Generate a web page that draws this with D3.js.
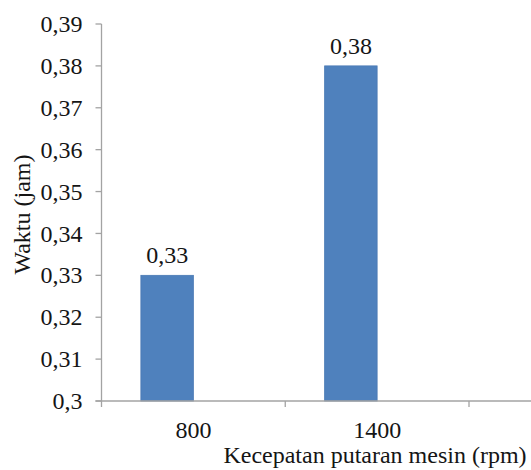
<!DOCTYPE html>
<html>
<head>
<meta charset="utf-8">
<script src="https://cdn.jsdelivr.net/npm/d3@7"></script>
</head>
<body style="margin:0">
<svg id="chart" width="531" height="470"></svg>
<script>
// ---- data ----
const categories = ["800", "1400"];
const values = [0.33, 0.38];
const yTickValues = [0.30, 0.31, 0.32, 0.33, 0.34, 0.35, 0.36, 0.37, 0.38, 0.39];
const xTitle = "Kecepatan putaran mesin (rpm)";
const yTitle = "Waktu (jam)";

const W = 531;
const plotL = 101.5, plotR = 469, plotT = 24, plotB = 401;
const fontSize = 24;
const textColor = "#151515";
const axisColor = "#a3a3a3";
const barColor = "#4f81bd";

const svg = d3.select("#chart");
const fmt = d3.formatLocale({decimal: ",", thousands: ".", grouping: [3], currency: ["", ""]}).format(".2~f");

function styleText(sel) {
  sel.style("font-family", "'Times New Roman'").attr("font-size", fontSize).attr("fill", textColor);
}

const y = d3.scaleLinear().domain([0.30, 0.39]).range([plotB, plotT]);
const x = d3.scaleBand().domain(categories).range([plotL, plotR]).paddingInner(0).paddingOuter(0);
const xs = d3.scaleBand().domain(["s1", "s2"]).range([0, x.bandwidth()]).paddingInner(0).paddingOuter(0.75);

const rows = categories.map((c, i) => ({c, v: values[i]}));

// bars
svg.append("g").selectAll("rect")
  .data(rows)
  .join("rect")
  .attr("x", d => x(d.c) + xs("s1"))
  .attr("width", xs.bandwidth())
  .attr("y", d => y(d.v))
  .attr("height", d => y(0.30) - y(d.v))
  .attr("fill", barColor)
  .attr("stroke", "#4a7ab4")
  .attr("stroke-width", 0.8);

// y axis line and ticks
svg.append("line")
  .attr("x1", plotL).attr("x2", plotL)
  .attr("y1", y(0.39)).attr("y2", y(0.30))
  .attr("stroke", axisColor).attr("stroke-width", 1.3);
svg.append("g").selectAll("line")
  .data(yTickValues)
  .join("line")
  .attr("x1", plotL - 6).attr("x2", plotL)
  .attr("y1", d => y(d)).attr("y2", d => y(d))
  .attr("stroke", axisColor).attr("stroke-width", 1.3);
svg.append("g").selectAll("text")
  .data(yTickValues)
  .join("text")
  .attr("x", plotL - 19)
  .attr("y", d => y(d))
  .attr("dy", "0.34em")
  .attr("text-anchor", "end")
  .call(styleText)
  .text(d => fmt(d));

// value labels
svg.append("g").selectAll("text")
  .data(rows)
  .join("text")
  .attr("x", d => x(d.c) + xs("s1") + xs.bandwidth() / 2)
  .attr("y", d => y(d.v) - 12)
  .attr("text-anchor", "middle")
  .call(styleText)
  .text(d => fmt(d.v));

// x axis baseline (extends to the right edge)
svg.append("line")
  .attr("x1", plotL - 6).attr("x2", W)
  .attr("y1", y(0.30)).attr("y2", y(0.30))
  .attr("stroke", axisColor).attr("stroke-width", 1.3);

// x boundary ticks
const boundaries = categories.map(c => x(c)).concat([x.range()[1]]);
svg.append("g").selectAll("line")
  .data(boundaries)
  .join("line")
  .attr("x1", d => d).attr("x2", d => d)
  .attr("y1", y(0.30)).attr("y2", y(0.30) + 6)
  .attr("stroke", axisColor).attr("stroke-width", 1.3);

// x category labels
svg.append("g").selectAll("text")
  .data(categories)
  .join("text")
  .attr("x", d => x(d) + x.bandwidth() / 2)
  .attr("y", 438)
  .attr("text-anchor", "middle")
  .call(styleText)
  .text(d => d);

// axis titles
svg.append("text")
  .attr("x", 375).attr("y", 463)
  .attr("text-anchor", "middle")
  .call(styleText)
  .text(xTitle);

svg.append("text")
  .attr("transform", `translate(30,${(plotT + plotB) / 2 + 2}) rotate(-90)`)
  .attr("text-anchor", "middle")
  .call(styleText)
  .text(yTitle);
</script>
</body>
</html>
